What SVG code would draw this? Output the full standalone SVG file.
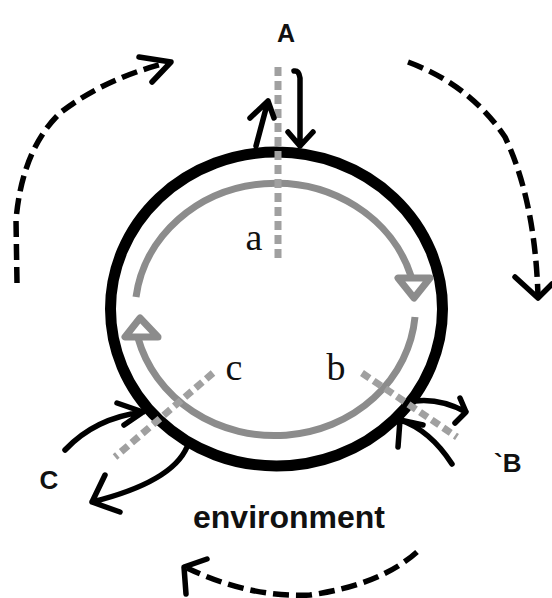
<svg xmlns="http://www.w3.org/2000/svg" width="552" height="598" viewBox="0 0 552 598">
<style>
.lbl{font-family:"Liberation Serif",serif;font-size:38px;fill:#111}
.cap{font-family:"Liberation Sans",Arial,sans-serif;font-weight:bold;fill:#111}
.gray{fill:none;stroke:#8c8c8c;stroke-width:7}
.gdash{fill:none;stroke:#a0a0a0;stroke-width:7;stroke-dasharray:9 5}
.blk{fill:none;stroke:#000;stroke-width:5.5;stroke-linecap:round;stroke-linejoin:round}
.bdash{fill:none;stroke:#000;stroke-width:5.5;stroke-dasharray:16 7;stroke-linecap:butt}
</style>
<rect width="552" height="598" fill="#fff"/>
<g id="cell">
<ellipse cx="276.5" cy="309" rx="166" ry="157" fill="none" stroke="#000" stroke-width="11"/>
</g>
<g id="cycle">
<path class="gray" d="M136,297 A141,130 0 0 1 411,276"/>
<path class="gray" d="M415,317 A141,130 0 0 1 138,338"/>
<polygon class="gray" points="398,278 430,278 414,298" stroke-linejoin="round"/>
<polygon class="gray" points="140,318 125,337 158,337" stroke-linejoin="round"/>
</g>
<g id="radials">
<path class="gdash" d="M278,67 V258"/>
<path class="gdash" d="M213,373 L115,457"/>
<path class="gdash" d="M362,373 L457,437"/>
</g>
<g id="labels">
<text class="lbl" x="254" y="250" text-anchor="middle">a</text>
<text class="lbl" x="234" y="380" text-anchor="middle">c</text>
<text class="lbl" x="336" y="380" text-anchor="middle">b</text>
<text class="cap" x="286" y="42" font-size="25" text-anchor="middle">A</text>
<text class="cap" x="49" y="489" font-size="26" text-anchor="middle">C</text>
<text class="cap" x="494" y="472" font-size="26">`B</text>
<text class="cap" x="289" y="528" font-size="32" text-anchor="middle">environment</text>
</g>
<g id="connectors">
<path class="blk" d="M256,146 L268,101 M250,118 L268,101 L274,118"/>
<path class="blk" d="M294,71 Q299,70 300,78 L300,146 M288,132 L300,146 L313,132"/>
<path class="blk" d="M65,450 Q95,418 143,412 M117,403 L143,412 L124,425"/>
<path class="blk" d="M187,447 Q172,482 92,502 M105,475 L92,502 L120,512"/>
<path class="blk" d="M415,401 Q440,398 466,412 M460,398 L466,412 L455,423"/>
<path class="blk" d="M452,464 Q430,430 400,420 M423,425 L400,420 L398,447"/>
<path class="bdash" d="M17,283 L16,220 Q22,150 60,113 Q105,78 170,62"/>
<path class="blk" d="M139,57 L171,62 L152,82"/>
<path class="bdash" d="M408,62 Q470,85 505,137 Q535,200 538,296"/>
<path class="blk" d="M515,277 L538,298 L552,284"/>
<path class="bdash" d="M417,552 Q380,585 310,595 Q250,598 187,568"/>
<path class="blk" d="M207,559 L184,567 L186,594"/>
</g>
</svg>
